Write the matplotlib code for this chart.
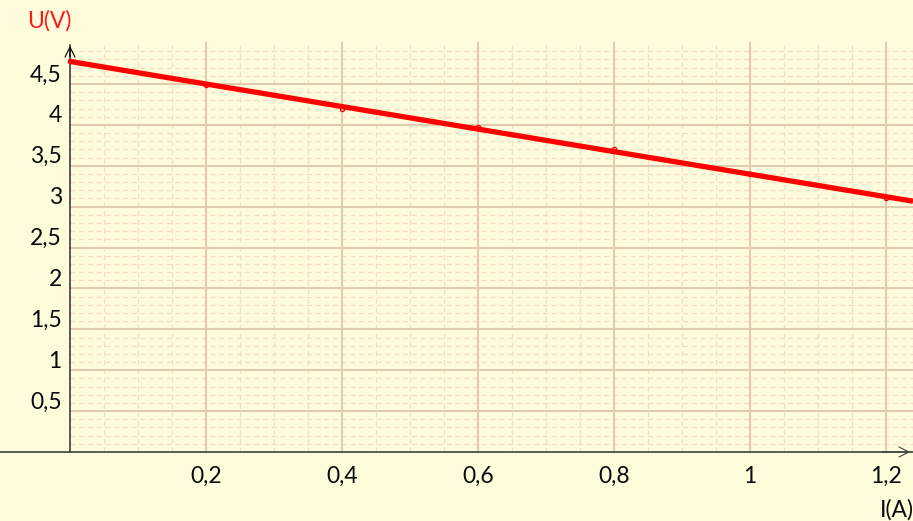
import numpy as np
import matplotlib
matplotlib.use('Agg')
import matplotlib.pyplot as plt

# measured points (current in A, voltage in V)
current = [0.0, 0.2, 0.4, 0.6, 0.8, 1.0, 1.2]
voltage = [4.78, 4.49, 4.20, 3.97, 3.70, 3.40, 3.10]

x_ticks = [0.2, 0.4, 0.6, 0.8, 1.0, 1.2]
y_ticks = [0.5, 1.0, 1.5, 2.0, 2.5, 3.0, 3.5, 4.0, 4.5]

bg = '#fffcdc'
major_col = '#dfcdae'
minor_col = '#f5dcc4'
axis_col = '#404040'

plt.rcParams['font.family'] = ['Lato', 'DejaVu Sans']

fig = plt.figure(figsize=(9.13, 5.21), dpi=100, facecolor=bg)
ax = fig.add_axes([0, 0, 1, 1])
ax.set_facecolor(bg)
x_min, x_max = -70 / 680, 843 / 680
y_min, y_max = -69 / 81.78, 452 / 81.78
ax.set_xlim(x_min, x_max)
ax.set_ylim(y_min, y_max)
ax.axis('off')

grid_top = 5.0

# minor grid
for xv in np.arange(0.05, x_max, 0.05):
    if abs(xv / 0.2 - round(xv / 0.2)) > 1e-6:
        ax.plot([xv, xv], [0, grid_top], color=minor_col, lw=0.9, ls=(0, (4, 3)), zorder=1)
for yv in np.arange(0.1, grid_top + 0.01, 0.1):
    if abs(yv / 0.5 - round(yv / 0.5)) > 1e-6:
        ax.plot([0, x_max], [yv, yv], color=minor_col, lw=0.9, ls=(0, (4, 3)), zorder=1)

# major grid
for xv in np.arange(0.2, x_max, 0.2):
    ax.plot([xv, xv], [0, grid_top], color=major_col, lw=1.5, zorder=2)
for yv in y_ticks:
    ax.plot([0, x_max], [yv, yv], color=major_col, lw=1.5, zorder=2)

# axes
ax.plot([x_min, x_max], [0, 0], color=axis_col, lw=1.2, zorder=3)
ax.plot([0, 0], [0, 4.98], color=axis_col, lw=1.2, zorder=3)
ax.annotate('', xy=(0, 5.0), xytext=(0, 4.8),
            arrowprops=dict(arrowstyle='->', color='black', lw=0.8, mutation_scale=18), zorder=4)
ax.annotate('', xy=(x_max, 0), xytext=(x_max - 0.05, 0),
            arrowprops=dict(arrowstyle='->', color=axis_col, lw=0.8, mutation_scale=18), zorder=4)

# fitted line and points
slope, intercept = np.polyfit(current, voltage, 1)
xs = np.array([0.0, x_max])
ax.plot(xs, intercept + slope * xs, color='#ff0000', lw=3.8, zorder=5, solid_capstyle='butt')
ax.plot(current, voltage, 'o', ms=3, mfc='none', mec='#ff0000', mew=1, zorder=6)

# tick labels
for xv in x_ticks:
    ax.text(xv, -0.38, f'{xv:g}'.replace('.', ','), ha='center', va='baseline',
            fontsize=16.5, color='#0a0a0a')
for yv in y_ticks:
    ax.text(-0.012, yv + 0.03, f'{yv:g}'.replace('.', ','), ha='right', va='baseline',
            fontsize=16.5, color='#0a0a0a')

ax.text(-0.063, 5.185, 'U(V)', color='#ff1a1a', fontsize=16.5, ha='left', va='baseline')
ax.text(x_max + 0.002, -0.795, 'I(A)', color='#0a0a0a', fontsize=16.5, ha='right', va='baseline')

fig.savefig('out.png', dpi=100, facecolor=bg)
